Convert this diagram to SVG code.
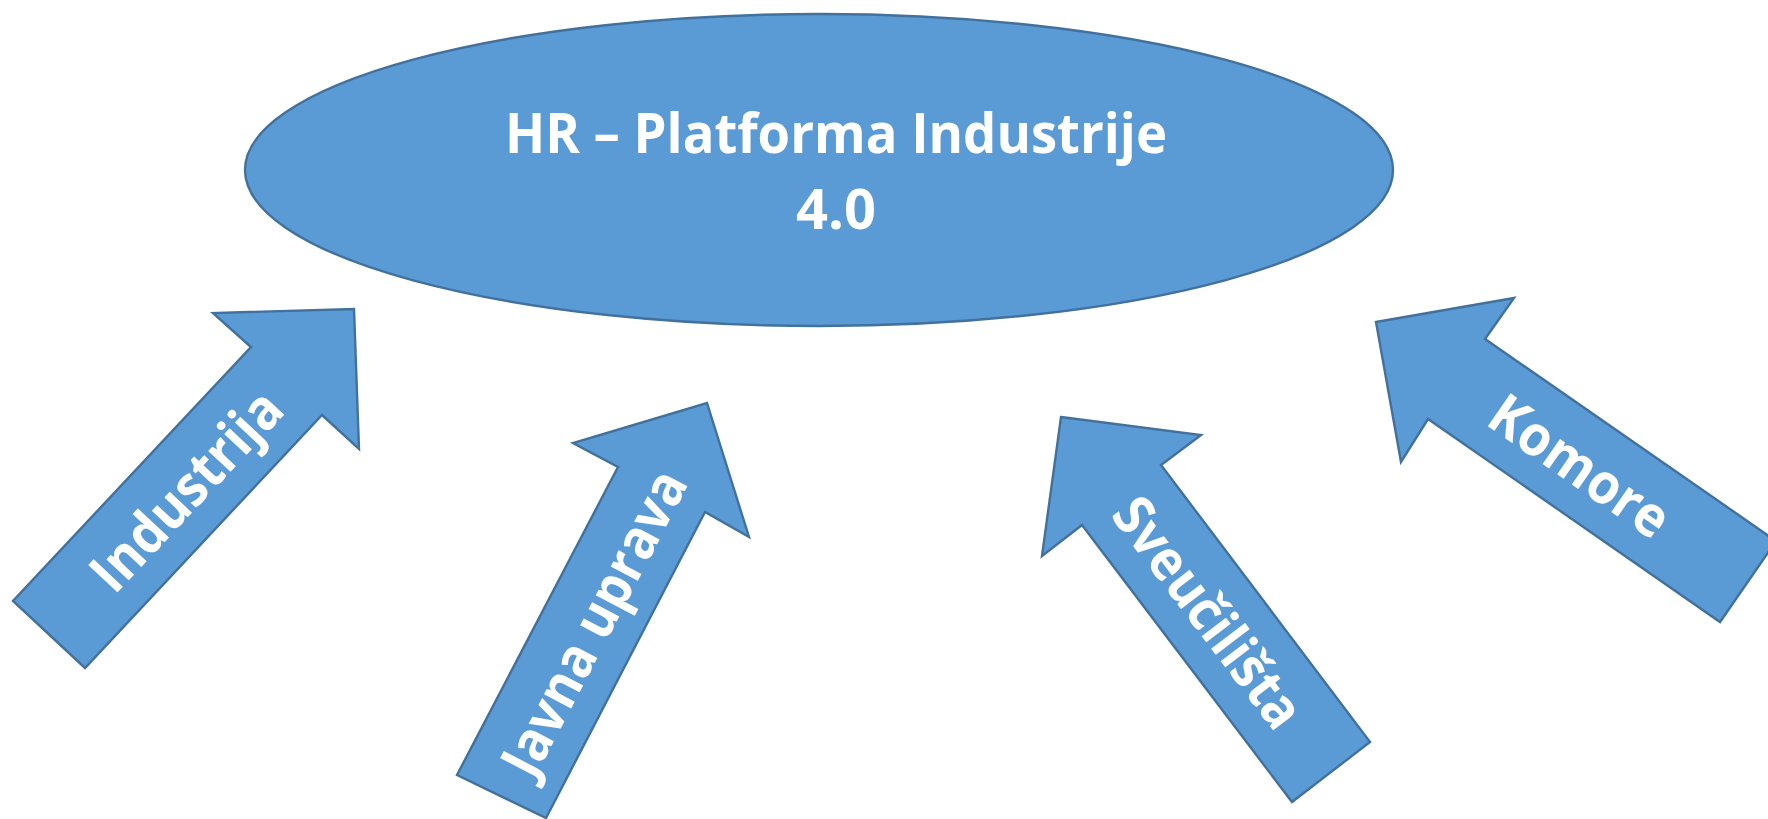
<svg xmlns="http://www.w3.org/2000/svg" width="1768" height="819" viewBox="0 0 1768 819">
  <style>
    .shape { fill: #5B9BD5; stroke: #41719C; stroke-width: 2.4; stroke-linejoin: miter; }
    .label { fill: #FFFFFF; font-family: "Open Sans", "Liberation Sans", sans-serif; font-weight: 700; font-size: 56px; text-anchor: middle; }
  </style>
  <rect width="1768" height="819" fill="#FFFFFF"/>

  <!-- central platform ellipse -->
  <g id="platforma">
    <ellipse class="shape" cx="819" cy="170" rx="574" ry="156"/>
    <text class="label" x="836" y="153" textLength="662" lengthAdjust="spacingAndGlyphs">HR – Platforma Industrije</text>
    <text class="label" x="836" y="229" textLength="80" lengthAdjust="spacingAndGlyphs">4.0</text>
  </g>

  <!-- block arrows pointing toward the platform -->
  <g id="connectors">
    <g id="industrija">
      <polygon class="shape" points="354,309 359,449 322,415 85,668 13,601 251,347 213,313"/>
      <text class="label" transform="translate(185.2,489.4) rotate(-46.8)" x="0" y="21" textLength="252" lengthAdjust="spacingAndGlyphs">Industrija</text>
    </g>
    <g id="javna-uprava">
      <polygon class="shape" points="707,403 749,537 705,512 546,818 457,775 618,467 573,443"/>
      <text class="label" transform="translate(592.7,621.8) rotate(-62.4)" x="0" y="21" textLength="336" lengthAdjust="spacingAndGlyphs">Javna uprava</text>
    </g>
    <g id="sveucilista">
      <polygon class="shape" points="1061,417 1201,435 1161,465 1370,742 1292,802 1082,525 1042,556"/>
      <text class="label" transform="translate(1209.3,611.6) rotate(52.8)" x="0" y="21" textLength="274" lengthAdjust="spacingAndGlyphs">Sveučilišta</text>
    </g>
    <g id="komore">
      <polygon class="shape" points="1376,322 1514,298 1485,339 1776,541 1720,622 1428,419 1401,462"/>
      <text class="label" transform="translate(1580.5,465) rotate(34.8)" x="0" y="21" textLength="206" lengthAdjust="spacingAndGlyphs">Komore</text>
    </g>
  </g>
</svg>
